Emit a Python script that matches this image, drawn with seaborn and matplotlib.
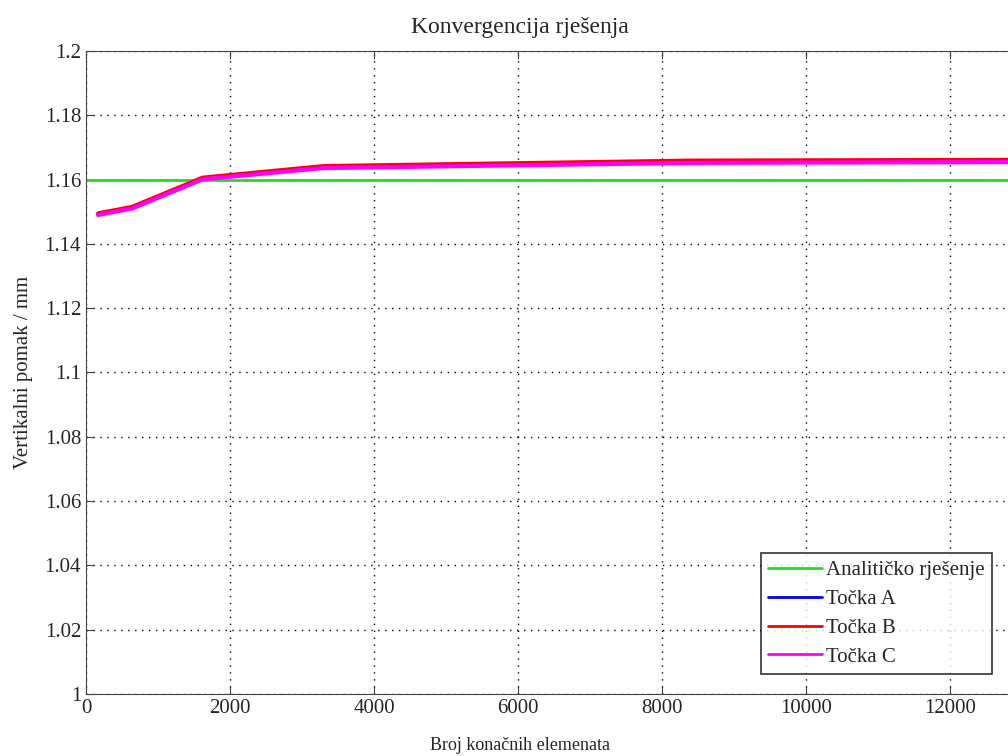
import seaborn as sns
import matplotlib.pyplot as plt
import numpy as np
import pandas as pd

sns.set_style('ticks')
plt.rcParams['font.family'] = ['Liberation Serif', 'DejaVu Serif']
plt.rcParams['xtick.direction'] = 'in'
plt.rcParams['ytick.direction'] = 'in'

# broj elemenata i pomaci (ocitano sa slike)
n_elem = [170, 640, 1620, 3300, 8400, 14000]
pomak_A = [1.1492, 1.1512, 1.1603, 1.1638, 1.1655, 1.1658]
pomak_B = [1.1495, 1.1515, 1.1606, 1.1642, 1.1659, 1.1662]
pomak_C = [1.1490, 1.1510, 1.1601, 1.1636, 1.1652, 1.1655]
analiticko = 1.16

xticks = [0, 2000, 4000, 6000, 8000, 10000, 12000]
yticks = [1, 1.02, 1.04, 1.06, 1.08, 1.1, 1.12, 1.14, 1.16, 1.18, 1.2]
ytick_labels = ['1', '1.02', '1.04', '1.06', '1.08', '1.1', '1.12', '1.14', '1.16', '1.18', '1.2']

df = pd.DataFrame({'n': n_elem, 'A': pomak_A, 'B': pomak_B, 'C': pomak_C})

fig = plt.figure(figsize=(10.08, 7.56), dpi=100)
ax = fig.add_axes([86/1008, 62/756, (1094-86)/1008, (694-51)/756])

ax.axhline(analiticko, color='#22dd22', lw=2, label='Analitičko rješenje')
sns.lineplot(data=df, x='n', y='A', ax=ax, color='#0000ee', lw=3, label='Točka A')
sns.lineplot(data=df, x='n', y='B', ax=ax, color='#ff0000', lw=3, label='Točka B')
sns.lineplot(data=df, x='n', y='C', ax=ax, color='#ff00ff', lw=3, label='Točka C')

ax.set_xlim(0, 14000)
ax.set_ylim(1, 1.2)
ax.set_xticks(xticks)
ax.set_yticks(yticks)
ax.set_yticklabels(ytick_labels)
ax.tick_params(labelsize=15, length=6, color='#444444', top=True, right=True)
ax.grid(True, ls=(0, (1, 4)), color='black', lw=1)
for s in ax.spines.values():
    s.set_color('#444444')
ax.set_xlabel('')
ax.set_ylabel('Vertikalni pomak / mm', fontsize=15)
ax.yaxis.set_label_coords(-0.053, 0.5)

fig.text(520/1008, 1-27/756, 'Konvergencija rješenja', fontsize=17, ha='center', va='center')
fig.text(520/1008, 1-745/756, 'Broj konačnih elemenata', fontsize=13, ha='center', va='center')

leg = ax.legend(loc='upper left', bbox_to_anchor=(761/1008, 1-553/756),
                bbox_transform=fig.transFigure, fontsize=15, frameon=True,
                fancybox=False, handlelength=2.6, handletextpad=0.15,
                borderpad=0.35, labelspacing=0.45, borderaxespad=0)
leg.get_frame().set_edgecolor('black')
leg.get_frame().set_linewidth(1.2)
for h in leg.get_lines():
    h.set_linewidth(2)

fig.savefig('out.png', dpi=100)
